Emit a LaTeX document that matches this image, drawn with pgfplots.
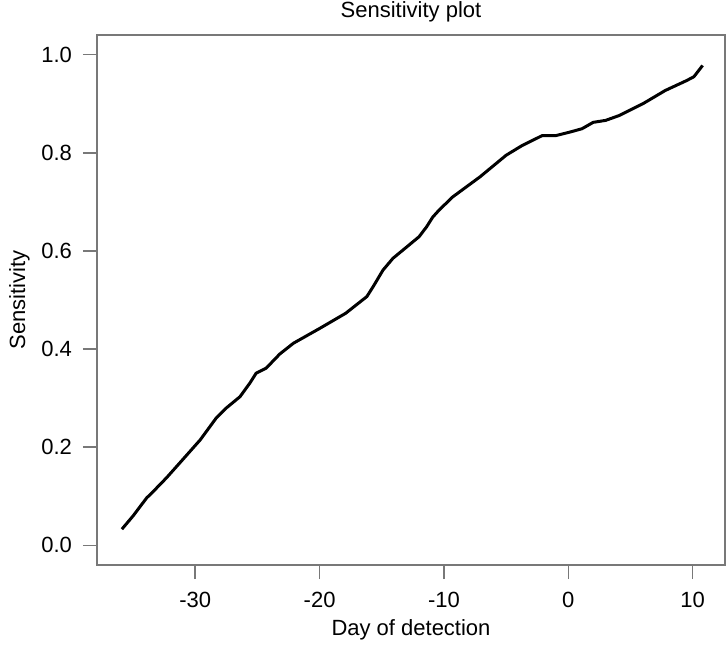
\documentclass[border=0pt]{standalone}
\usepackage{fontspec}
\setmainfont{Liberation Sans}
\usepackage{pgfplots}
\pgfplotsset{compat=1.18}
\usetikzlibrary{calc}
\definecolor{frameGray}{RGB}{120,120,120}

\begin{document}
\begin{tikzpicture}
\begin{axis}[
  scale only axis,
  width=314pt, height=265pt,
  clip=false,
  xmin=-37.9, xmax=12.6,
  ymin=-0.04, ymax=1.04,
  xtick={-30,-20,-10,0,10},
  ytick={0,0.2,0.4,0.6,0.8,1.0},
  yticklabel style={/pgf/number format/fixed,/pgf/number format/precision=1,/pgf/number format/fixed zerofill},
  /pgf/number format/assume math mode=true,
  xtick pos=bottom, ytick pos=left,
  tick align=outside,
  major tick length=7pt,
  tick style={frameGray, line width=0.8pt},
  axis line style={frameGray, line width=0.8pt},
  ticklabel style={font=\fontsize{11}{13}\selectfont},
  xticklabel style={yshift=-3pt},
  yticklabel style={xshift=-2pt},
  label style={font=\fontsize{11}{13}\selectfont},
  xlabel={Day of detection},
  ylabel={Sensitivity},
  xlabel style={yshift=1pt},
  ylabel style={yshift=-1pt},
]
\addplot[black, line width=1.5pt, line join=round] coordinates {
(-35.9,0.033) (-35.0,0.060) (-33.9,0.097) (-33.6,0.104) (-32.3,0.138)
(-31.0,0.175) (-29.6,0.215) (-28.3,0.260) (-27.5,0.280) (-26.4,0.303)
(-25.6,0.331) (-25.1,0.351) (-24.3,0.361) (-23.2,0.390) (-22.1,0.412)
(-20.0,0.442) (-17.9,0.473) (-16.2,0.507) (-15.7,0.527) (-14.9,0.561)
(-14.1,0.585) (-13.0,0.608) (-12.0,0.629) (-11.4,0.649) (-10.9,0.669)
(-10.4,0.683) (-9.3,0.710) (-7.1,0.751) (-5.0,0.795) (-3.7,0.815)
(-2.1,0.835) (-1.0,0.835) (0.1,0.842) (1.1,0.849) (2.0,0.862)
(3.0,0.866) (4.1,0.876) (6.0,0.900) (7.8,0.927) (9.5,0.947)
(10.1,0.955) (10.8,0.978)
};
\node[font=\fontsize{11}{13}\selectfont] at (rel axis cs:0.5,1) [yshift=11.5pt] {Sensitivity plot};
\end{axis}
\pgfresetboundingbox
\path (current axis.south west) ++(-48.5pt,-39.5pt) rectangle ($(current axis.north east)+(0.5pt,17.5pt)$);
\end{tikzpicture}
\end{document}
